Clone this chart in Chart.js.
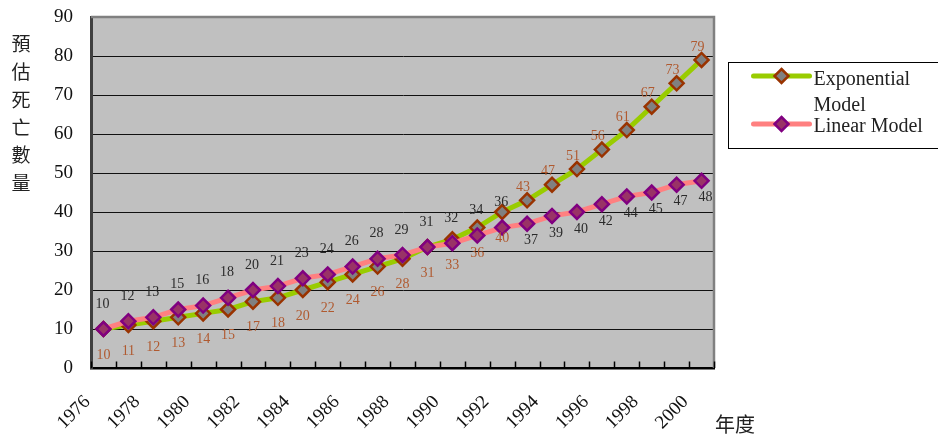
<!DOCTYPE html>
<html>
<head>
<meta charset="utf-8">
<script src="https://cdn.jsdelivr.net/npm/chart.js@4/dist/chart.umd.min.js"></script>
<style>
  html, body { margin: 0; padding: 0; background: #ffffff; overflow: hidden; }
  #wrap { position: relative; width: 938px; height: 439px; }
</style>
</head>
<body>
<div id="wrap"><canvas id="chart" width="938" height="439"></canvas></div>
<script>
// Years on the category axis
const years = [1976, 1977, 1978, 1979, 1980, 1981, 1982, 1983, 1984, 1985, 1986, 1987, 1988,
               1989, 1990, 1991, 1992, 1993, 1994, 1995, 1996, 1997, 1998, 1999, 2000];

// Estimated deaths per model
const exponentialModel = [10, 11, 12, 13, 14, 15, 17, 18, 20, 22, 24, 26, 28,
                          31, 33, 36, 40, 43, 47, 51, 56, 61, 67, 73, 79];
const linearModel = [10, 12, 13, 15, 16, 18, 20, 21, 23, 24, 26, 28, 29,
                     31, 32, 34, 36, 37, 39, 40, 42, 44, 45, 47, 48];

// Value axis range
const yMin = 0, yMax = 90, yStep = 10;

// Text
const seriesNames = ['Exponential Model', 'Linear Model'];
const yTitle = '預估死亡數量';
const xTitle = '年度';

// From this year on the labels swap sides (exponential above, linear below)
const labelSwapYear = 1993;

const SERIF = '"Liberation Serif", "DejaVu Serif", serif';
const CJK = '"Noto Sans CJK TC", "Noto Sans CJK SC", sans-serif';

// Grey plot background, grey top/right frame and inward tick marks on the category axis
const plotFrame = {
  id: 'plotFrame',
  beforeDraw(chart) {
    const { ctx, chartArea: a } = chart;
    ctx.save();
    ctx.fillStyle = '#c0c0c0';
    ctx.fillRect(a.left, a.top, a.width, a.height);
    ctx.restore();
  },
  beforeDatasetsDraw(chart) {
    const { ctx, chartArea: a } = chart;
    const xs = chart.scales.x;
    ctx.save();
    ctx.strokeStyle = '#808080';
    ctx.lineWidth = 2.5;
    ctx.beginPath();
    ctx.moveTo(a.left, a.top);
    ctx.lineTo(a.right, a.top);
    ctx.lineTo(a.right, a.bottom);
    ctx.stroke();

    ctx.strokeStyle = '#000000';
    ctx.lineWidth = 1.5;
    ctx.beginPath();
    for (let i = 0; i <= years.length; i++) {
      const px = Math.round(xs.getPixelForValue(i - 0.5)) + 0.5;
      ctx.moveTo(px, a.bottom);
      ctx.lineTo(px, a.bottom - 6.5);
    }
    ctx.stroke();
    ctx.restore();
  }
};

// Value labels next to every point
const valueLabels = {
  id: 'valueLabels',
  afterDatasetsDraw(chart) {
    const ctx = chart.ctx;
    ctx.save();
    ctx.font = '14px ' + SERIF;
    ctx.textAlign = 'center';
    ctx.textBaseline = 'middle';
    chart.data.datasets.forEach((ds, di) => {
      const meta = chart.getDatasetMeta(di);
      ctx.fillStyle = ds.labelColor;
      meta.data.forEach((pt, i) => {
        const off = years[i] >= labelSwapYear ? ds.labelOffsetLate : ds.labelOffsetEarly;
        ctx.fillText(String(ds.data[i]), pt.x + off[0], pt.y + off[1]);
      });
    });
    ctx.restore();
  }
};

// Axis titles: stacked vertical characters on the left, year caption bottom right
const axisTitles = {
  id: 'axisTitles',
  afterDraw(chart) {
    const { ctx, chartArea: a } = chart;
    ctx.save();
    ctx.fillStyle = '#222222';
    ctx.font = '19px ' + CJK;
    ctx.textAlign = 'center';
    ctx.textBaseline = 'middle';
    [...yTitle].forEach((ch, i) => {
      ctx.fillText(ch, 21, a.top + 27 + i * 27.8);
    });
    ctx.textAlign = 'left';
    ctx.font = '20px ' + CJK;
    ctx.fillText(xTitle, a.right + 1, 424);
    ctx.restore();
  }
};

// Boxed legend to the right of the plot
const boxedLegend = {
  id: 'boxedLegend',
  afterDraw(chart) {
    const { ctx, chartArea: a } = chart;
    const left = a.right + 14.5, top = 62.5;
    ctx.save();
    ctx.strokeStyle = '#000000';
    ctx.lineWidth = 1;
    ctx.strokeRect(left, top, 230, 86);

    const rows = [
      { ds: chart.data.datasets[1], lineY: top + 13.5, text: ['Exponential', 'Model'], textY: top + 17 },
      { ds: chart.data.datasets[0], lineY: top + 61.5, text: ['Linear Model'], textY: top + 64.5 }
    ];
    rows.forEach(r => {
      const x0 = left + 25, x1 = left + 81, xm = (x0 + x1) / 2;
      ctx.strokeStyle = r.ds.borderColor;
      ctx.lineWidth = 5;
      ctx.lineCap = 'round';
      ctx.beginPath();
      ctx.moveTo(x0, r.lineY);
      ctx.lineTo(x1, r.lineY);
      ctx.stroke();
      const rad = 7;
      ctx.beginPath();
      ctx.moveTo(xm, r.lineY - rad);
      ctx.lineTo(xm + rad, r.lineY);
      ctx.lineTo(xm, r.lineY + rad);
      ctx.lineTo(xm - rad, r.lineY);
      ctx.closePath();
      ctx.fillStyle = r.ds.pointBackgroundColor;
      ctx.fill();
      ctx.lineWidth = 2.5;
      ctx.lineJoin = 'miter';
      ctx.strokeStyle = r.ds.pointBorderColor;
      ctx.stroke();
      ctx.fillStyle = '#222222';
      ctx.font = '20px ' + SERIF;
      ctx.textAlign = 'left';
      ctx.textBaseline = 'middle';
      r.text.forEach((t, k) => ctx.fillText(t, left + 85, r.textY + k * 26.5));
    });
    ctx.restore();
  }
};

new Chart(document.getElementById('chart'), {
  type: 'line',
  data: {
    labels: years.map(String),
    datasets: [
      {
        label: seriesNames[1],
        data: linearModel,
        order: 0,
        borderColor: '#ff8080',
        borderWidth: 5,
        pointStyle: 'rectRot',
        pointRadius: 7,
        pointBorderWidth: 2.5,
        pointBackgroundColor: '#993366',
        pointBorderColor: '#800080',
        tension: 0,
        labelColor: '#2a2a2a',
        labelOffsetEarly: [-1, -25],
        labelOffsetLate: [4, 17]
      },
      {
        label: seriesNames[0],
        data: exponentialModel,
        order: 1,
        borderColor: '#99cc00',
        borderWidth: 5,
        pointStyle: 'rectRot',
        pointRadius: 7,
        pointBorderWidth: 2.5,
        pointBackgroundColor: '#808080',
        pointBorderColor: '#993300',
        tension: 0,
        labelColor: '#b05a30',
        labelOffsetEarly: [0, 26],
        labelOffsetLate: [-4, -13]
      }
    ]
  },
  options: {
    responsive: false,
    animation: false,
    devicePixelRatio: 1,
    layout: { padding: { top: 17, right: 224, left: 0, bottom: 0 } },
    plugins: {
      legend: { display: false },
      title: { display: false },
      tooltip: { enabled: false }
    },
    scales: {
      x: {
        offset: true,
        afterFit(scale) { scale.height = 71; },
        grid: {
          offset: true,
          drawOnChartArea: false,
          drawTicks: false
        },
        border: { display: true, color: '#000000', width: 2.5 },
        ticks: {
          autoSkip: false,
          maxRotation: 45,
          minRotation: 45,
          labelOffset: -16,
          padding: 23,
          color: '#111111',
          font: { family: SERIF, size: 19 },
          callback(value, index) {
            return years[index] % 2 === 0 ? String(years[index]) : '';
          }
        }
      },
      y: {
        min: yMin,
        max: yMax,
        afterFit(scale) {
          scale.width = 91;
          scale.paddingTop = 0;
          scale.paddingBottom = 0;
        },
        grid: {
          color: ctx => (ctx.tick && ctx.tick.value === yMax) ? '#808080' : '#111111',
          lineWidth: 1,
          drawTicks: false
        },
        border: { display: true, color: '#404040', width: 3 },
        ticks: {
          stepSize: yStep,
          padding: 18,
          color: '#111111',
          font: { family: SERIF, size: 19 }
        }
      }
    }
  },
  plugins: [plotFrame, valueLabels, axisTitles, boxedLegend]
});
</script>
</body>
</html>
